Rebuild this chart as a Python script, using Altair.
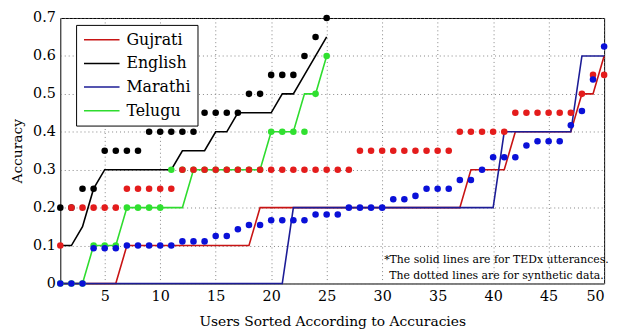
import altair as alt
import pandas as pd

users_50 = list(range(1, 51))
users_25 = list(range(1, 26))
series_names = ["Gujrati", "English", "Marathi", "Telugu"]

# Solid lines (TEDx utterances)
gujrati_tedx = [0, 0, 0, 0, 0, 0,
                0.1, 0.1, 0.1, 0.1, 0.1, 0.1, 0.1, 0.1, 0.1, 0.1, 0.1, 0.1,
                0.2, 0.2, 0.2, 0.2, 0.2, 0.2, 0.2, 0.2, 0.2, 0.2, 0.2, 0.2, 0.2,
                0.2, 0.2, 0.2, 0.2, 0.2, 0.2,
                0.3, 0.3, 0.3, 0.3,
                0.4, 0.4, 0.4, 0.4, 0.4, 0.4,
                0.5, 0.5, 0.6]
english_tedx = [0.1, 0.1, 0.15, 0.25, 0.3, 0.3, 0.3, 0.3, 0.3, 0.3, 0.3, 0.35, 0.35,
                0.35, 0.4, 0.4, 0.45, 0.45, 0.45, 0.45, 0.5, 0.5, 0.55, 0.6, 0.65]
marathi_tedx = [0, 0, 0, 0, 0, 0, 0, 0, 0, 0, 0, 0, 0, 0, 0, 0, 0, 0, 0, 0, 0,
                0.2, 0.2, 0.2, 0.2, 0.2, 0.2, 0.2, 0.2, 0.2, 0.2, 0.2, 0.2, 0.2, 0.2,
                0.2, 0.2, 0.2, 0.2, 0.2,
                0.4, 0.4, 0.4, 0.4, 0.4, 0.4, 0.4,
                0.6, 0.6, 0.6]
telugu_tedx = [0, 0, 0, 0.1, 0.1, 0.1, 0.2, 0.2, 0.2, 0.2, 0.2, 0.2, 0.3, 0.3, 0.3,
               0.3, 0.3, 0.3, 0.3, 0.4, 0.4, 0.4, 0.5, 0.5, 0.6]

# Dotted (synthetic data)
gujrati_syn = [0.1,
               0.2, 0.2, 0.2, 0.2, 0.2,
               0.25, 0.25, 0.25, 0.25, 0.25,
               0.3, 0.3, 0.3, 0.3, 0.3, 0.3, 0.3, 0.3,
               0.3, 0.3, 0.3, 0.3, 0.3, 0.3, 0.3, 0.3,
               0.35, 0.35, 0.35, 0.35, 0.35, 0.35, 0.35, 0.35, 0.35,
               0.4, 0.4, 0.4, 0.4, 0.4,
               0.45, 0.45, 0.45, 0.45, 0.45, 0.45,
               0.5, 0.55, 0.55]
english_syn = [0.2, 0.2, 0.25, 0.25, 0.35, 0.35, 0.35, 0.35, 0.4, 0.4, 0.4, 0.4, 0.4,
               0.45, 0.45, 0.45, 0.45, 0.5, 0.5, 0.55, 0.55, 0.55, 0.6, 0.65, 0.7]
marathi_syn = [0, 0, 0, 0.093, 0.093, 0.093, 0.1, 0.1, 0.1, 0.1, 0.1, 0.111, 0.111,
               0.111, 0.125, 0.125, 0.143, 0.154, 0.154, 0.167, 0.167, 0.167, 0.167,
               0.182, 0.182, 0.182, 0.2, 0.2, 0.2, 0.2, 0.222, 0.222, 0.231, 0.25,
               0.25, 0.25, 0.273, 0.273, 0.3, 0.333, 0.333, 0.333, 0.364, 0.375,
               0.375, 0.375, 0.417, 0.455, 0.538, 0.625]
telugu_syn = [0, 0, 0, 0.1, 0.1, 0.1, 0.2, 0.2, 0.2, 0.2, 0.3, 0.3, 0.3, 0.3, 0.3,
              0.3, 0.3, 0.3, 0.3, 0.4, 0.4, 0.4, 0.4, 0.5, 0.6]

x_ticks = [5, 10, 15, 20, 25, 30, 35, 40, 45, 50]
y_ticks = [0, 0.1, 0.2, 0.3, 0.4, 0.5, 0.6, 0.7]

note_lines = ["*The solid lines are for TEDx utterances.",
              "The dotted lines are for synthetic data."]


def frame(xs, ys, name):
    return pd.DataFrame({"user": xs, "acc": ys, "series": name})


tedx = {
    "Gujrati": frame(users_50, gujrati_tedx, "Gujrati"),
    "English": frame(users_25, english_tedx, "English"),
    "Marathi": frame(users_50, marathi_tedx, "Marathi"),
    "Telugu": frame(users_25, telugu_tedx, "Telugu"),
}
syn = {
    "Gujrati": frame(users_50, gujrati_syn, "Gujrati"),
    "English": frame(users_25, english_syn, "English"),
    "Marathi": frame(users_50, marathi_syn, "Marathi"),
    "Telugu": frame(users_25, telugu_syn, "Telugu"),
}

FONT = "DejaVu Serif"
line_colors = ["#c81414", "#000000", "#1c1c96", "#2edc2e"]
dot_colors = {"Gujrati": "#e41c1c", "English": "#000000",
              "Marathi": "#0a10d8", "Telugu": "#30e030"}

x_scale = alt.Scale(domain=[1, 50], nice=False, zero=False)
y_scale = alt.Scale(domain=[0, 0.7], nice=False, zero=True)
x_axis = alt.Axis(values=x_ticks, title="Users Sorted According to Accuracies",
                  titlePadding=12, labelPadding=6, labelOverlap=False)
y_axis = alt.Axis(values=y_ticks, format=".1~f", title="Accuracy",
                  titlePadding=8, labelPadding=5, labelOverlap=False,
                  tickCount=8)

x_enc = alt.X("user:Q", scale=x_scale, axis=x_axis)
y_enc = alt.Y("acc:Q", scale=y_scale, axis=y_axis)
color_enc = alt.Color("series:N",
                      scale=alt.Scale(domain=series_names, range=line_colors),
                      legend=alt.Legend(title=None, orient="none", legendX=16,
                                        legendY=7, direction="vertical",
                                        symbolType="M-3,0H3", symbolSize=144,
                                        symbolStrokeWidth=1.5, symbolOffset=11,
                                        labelFont=FONT, labelFontSize=16,
                                        labelColor="black", labelOffset=17,
                                        strokeColor="black", fillColor="white",
                                        padding=7, rowPadding=8))

layers = []
for name in ["Gujrati", "English", "Telugu", "Marathi"]:
    layers.append(alt.Chart(tedx[name]).mark_line(strokeWidth=1.6).encode(
        x=x_enc, y=y_enc, color=color_enc))
for name in ["Telugu", "English", "Gujrati", "Marathi"]:
    layers.append(alt.Chart(syn[name]).mark_circle(
        size=44, opacity=1, color=dot_colors[name]).encode(x=x_enc, y=y_enc))

note = alt.Chart(pd.DataFrame({"user": [40.3], "acc": [0.062]})).mark_text(
    text=note_lines, font=FONT, fontSize=11, color="black", align="center",
    baseline="middle", lineHeight=16).encode(x=x_enc, y=y_enc)
layers.append(note)

chart = alt.layer(*layers).properties(
    width=551, height=269,
    autosize=alt.AutoSizeParams(type="none"),
    padding={"left": 53, "top": 8, "right": 9, "bottom": 46},
    background="white",
).configure_view(
    stroke="black", strokeWidth=1
).configure_axis(
    labelFont=FONT, labelFontSize=14.5, labelColor="black",
    titleFont=FONT, titleFontSize=14, titleColor="black", titleFontWeight="normal",
    domain=False, ticks=False,
    grid=True, gridColor="#777777", gridDash=[1, 3], gridWidth=1, gridOpacity=0.9
)

chart.save("out.html", embed_options={"renderer": "svg", "actions": False})
